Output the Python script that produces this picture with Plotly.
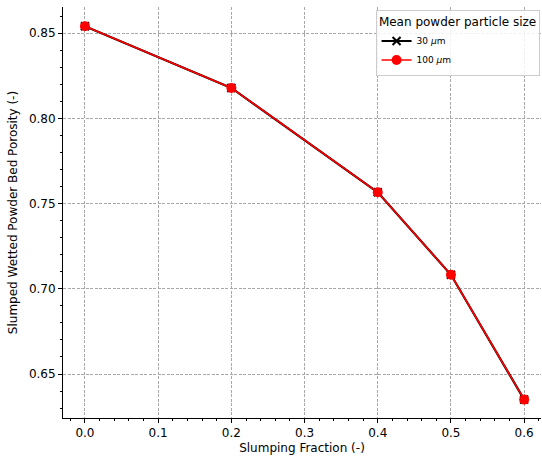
import plotly.graph_objects as go

# Slumping fraction vs. slumped wetted powder bed porosity
slumping_fraction = [0.0, 0.2, 0.4, 0.5, 0.6]
porosity_30um = [0.854, 0.8178, 0.7566, 0.7082, 0.6350]
porosity_100um = [0.854, 0.8178, 0.7566, 0.7082, 0.6350]

x_ticks = [0.0, 0.1, 0.2, 0.3, 0.4, 0.5, 0.6]
y_ticks = [0.65, 0.70, 0.75, 0.80, 0.85]

FONT = "DejaVu Sans"

fig = go.Figure()
fig.add_trace(go.Scatter(
    x=slumping_fraction, y=porosity_30um, mode="lines+markers",
    name="30 <i>μ</i>m",
    line=dict(color="black", width=2.2),
    marker=dict(symbol="x-thin", size=8, line=dict(color="black", width=2)),
))
fig.add_trace(go.Scatter(
    x=slumping_fraction, y=porosity_100um, mode="lines+markers",
    name="100 <i>μ</i>m",
    line=dict(color="red", width=1.6),
    marker=dict(symbol="circle", size=10, color="red"),
))

axis_common = dict(
    showline=True, linecolor="black", linewidth=1,
    ticks="outside", ticklen=4, tickwidth=1, tickcolor="black",
    showgrid=True, gridcolor="#a8a8a8", griddash="3px,1.5px", gridwidth=0.7,
    zeroline=False, mirror=False,
    tickfont=dict(family=FONT, size=12, color="black"),
)

fig.update_xaxes(
    **axis_common,
    range=[-0.030, 0.623],
    tickvals=x_ticks, ticktext=[f"{v:.1f}" for v in x_ticks],
    minor=dict(dtick=0.02, tick0=0, ticks="outside", ticklen=2, tickcolor="black", showgrid=False),
    title=dict(text="Slumping Fraction (-)", font=dict(family=FONT, size=12, color="black"), standoff=4),
)
fig.update_yaxes(
    **axis_common,
    range=[0.6242, 0.8653],
    tickvals=y_ticks, ticktext=[f"{v:.2f}" for v in y_ticks],
    minor=dict(dtick=0.01, tick0=0.6, ticks="outside", ticklen=2, tickcolor="black", showgrid=False),
    title=dict(text="Slumped Wetted Powder Bed Porosity (-)", font=dict(family=FONT, size=12, color="black"), standoff=8),
)

fig.update_layout(
    width=542, height=457,
    margin=dict(l=63, r=1, t=7, b=39),
    plot_bgcolor="white", paper_bgcolor="white",
    font=dict(family=FONT, color="black"),
    showlegend=True,
    legend=dict(
        title=dict(text="Mean powder particle size", side="top center",
                   font=dict(family=FONT, size=12, color="black")),
        font=dict(family=FONT, size=9, color="black"),
        x=0.997, y=0.993, xanchor="right", yanchor="top",
        bgcolor="rgba(255,255,255,0.85)", bordercolor="#cccccc", borderwidth=1,
        tracegroupgap=0, itemwidth=30,
    ),
)

fig.write_html("out.html")
